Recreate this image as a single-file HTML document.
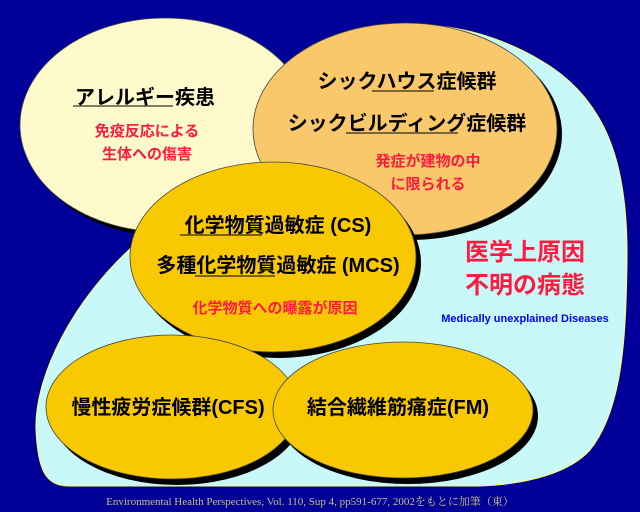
<!DOCTYPE html>
<html><head><meta charset="utf-8"><style>
body{margin:0;background:#000099;}
svg{display:block}
text{font-family:"Liberation Sans","Noto Sans CJK JP",sans-serif;font-weight:bold;text-anchor:middle}
.k{fill:#000;font-size:20px}
.r{fill:#ff1a40;font-size:15px}
</style></head><body>
<svg width="640" height="512" viewBox="0 0 640 512">
<rect width="640" height="512" fill="#000099"/>
<path d="M355,30 C420,18 480,25 540,60 C610,100 628,170 627,260 C626,340 622,410 590,450 C570,472 530,484 480,486 L70,486 C45,486 38,470 36,430 C34,380 70,300 140,240 L250,150 Z" fill="#c8f8f8" stroke="#ffff66" stroke-width="1"/>
<ellipse cx="170" cy="130" rx="145" ry="107" fill="#000"/>
<ellipse cx="165" cy="125" rx="145" ry="107" fill="#fffacc" stroke="#444" stroke-width="0.8"/>
<ellipse cx="410" cy="134" rx="152" ry="106" fill="#000"/>
<ellipse cx="405" cy="129" rx="152" ry="106" fill="#f9c86a" stroke="#444" stroke-width="0.8"/>
<ellipse cx="278" cy="263" rx="143" ry="95" fill="#000"/>
<ellipse cx="273" cy="257" rx="143" ry="95" fill="#f8c800" stroke="#444" stroke-width="0.8"/>
<ellipse cx="177" cy="413" rx="126" ry="72" fill="#000"/>
<ellipse cx="172" cy="407" rx="126" ry="72" fill="#f8c800" stroke="#444" stroke-width="0.8"/>
<ellipse cx="408" cy="416" rx="130" ry="68" fill="#000"/>
<ellipse cx="403" cy="410" rx="130" ry="68" fill="#f8c800" stroke="#444" stroke-width="0.8"/>

<text x="145" y="104" class="k">アレルギー疾患</text>
<line x1="73" y1="106" x2="173" y2="106" stroke="#000"/>
<text x="147" y="136" class="r">免疫反応による</text>
<text x="147" y="159" class="r">生体への傷害</text>

<text x="407" y="88" class="k">シックハウス症候群</text>
<line x1="372" y1="91" x2="434" y2="91" stroke="#000"/>
<text x="407" y="130" class="k">シックビルディング症候群</text>
<line x1="346" y1="133" x2="458" y2="133" stroke="#000"/>
<text x="428" y="166" class="r">発症が建物の中</text>
<text x="428" y="189" class="r">に限られる</text>

<text x="278" y="232" class="k">化学物質過敏症 (CS)</text>
<line x1="180" y1="235" x2="262" y2="235" stroke="#000"/>
<text x="278" y="272" class="k">多種化学物質過敏症 (MCS)</text>
<line x1="195" y1="276" x2="275" y2="276" stroke="#000"/>
<text x="275" y="313" class="r">化学物質への曝露が原因</text>

<text x="168" y="414" class="k">慢性疲労症候群(CFS)</text>
<text x="398" y="414" class="k">結合繊維筋痛症(FM)</text>

<text x="525" y="260" style="fill:#ff1a40;font-size:24px">医学上原因</text>
<text x="525" y="293" style="fill:#ff1a40;font-size:24px">不明の病態</text>
<text x="525" y="322" style="fill:#0000ff;font-size:11px">Medically unexplained Diseases</text>

<text x="310" y="505" style="fill:#c8c080;font-size:11px;font-weight:normal;font-family:'Liberation Serif','Noto Serif CJK SC',serif">Environmental Health Perspectives, Vol. 110, Sup 4, pp591-677, 2002をもとに加筆（東）</text>
</svg>
</body></html>
